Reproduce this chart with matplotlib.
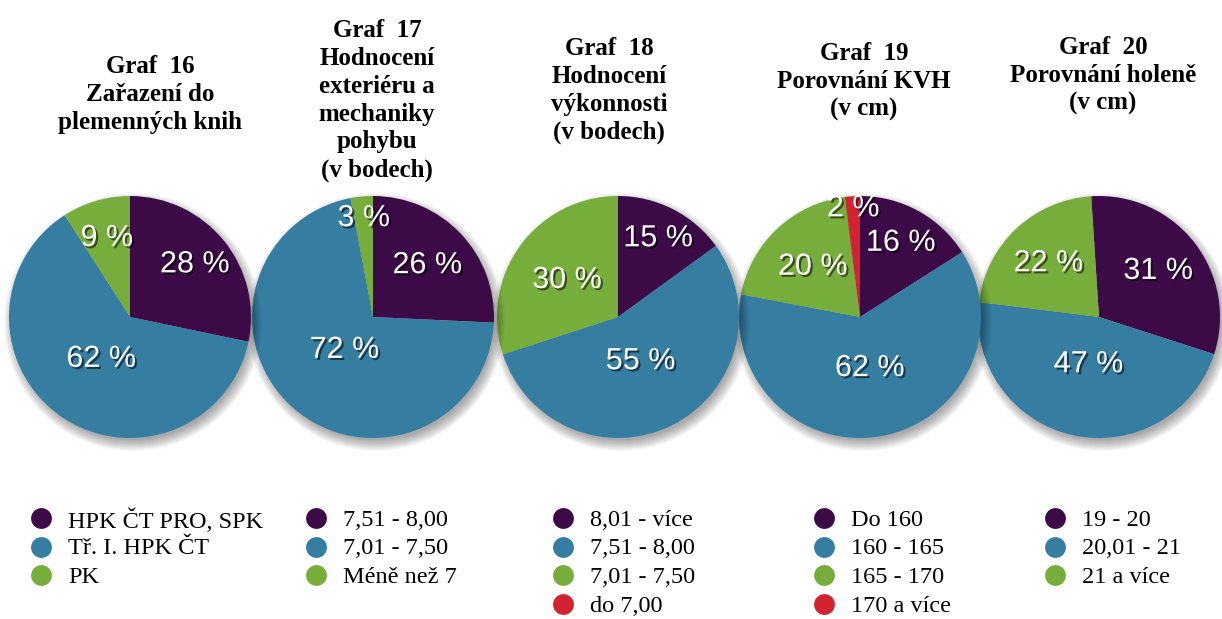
import matplotlib.pyplot as plt
import matplotlib.patheffects as pe
from matplotlib.patches import Circle
import numpy as np

W, H = 1222, 619

# Data
titles = [
    "Graf  16\nZařazení do\nplemenných knih",
    "Graf  17\nHodnocení\nexteriéru a\nmechaniky\npohybu\n(v bodech)",
    "Graf  18\nHodnocení\nvýkonnosti\n(v bodech)",
    "Graf  19\nPorovnání KVH\n(v cm)",
    "Graf  20\nPorovnání holeně\n(v cm)",
]
legend_labels = [
    ["HPK ČT PRO, SPK", "Tř. I. HPK ČT", "PK"],
    ["7,51 - 8,00", "7,01 - 7,50", "Méně než 7"],
    ["8,01 - více", "7,51 - 8,00", "7,01 - 7,50", "do 7,00"],
    ["Do 160", "160 - 165", "165 - 170", "170 a více"],
    ["19 - 20", "20,01 - 21", "21 a více"],
]
values = [
    [28, 62, 9],
    [26, 72, 3],
    [15, 55, 30, 0],
    [16, 62, 20, 2],
    [31, 47, 22],
]

colors = ["#3d0a48", "#367da2", "#77ad3b", "#d22330"]

# layout (pixels, y measured from top)
pie_cx = [130, 373, 618, 860, 1099]
pie_cy = 317
R = 121
start_angles = [90, 90, 90, 90, 93.7]
label_dist = [
    [0.69, 0.42, 0.68],
    [0.62, 0.36, 0.82],
    [0.73, 0.41, 0.52, 0.0],
    [0.70, 0.43, 0.57, 0.90],
    [0.62, 0.40, 0.61],
]
title_x = [150, 377, 609, 864, 1103]
title_top = [55, 19, 37, 42, 36]
leg_marker_x = [41, 316, 563, 824, 1055]
leg_text_dx = 27
leg_y0 = 518
leg_step = 28.5

fig = plt.figure(figsize=(W / 100, H / 100), dpi=100)
ax = fig.add_axes([0, 0, 1, 1])


def Y(y):
    return H - y


# draw right to left so that each pie's shadow falls on its right neighbour
for i in reversed(range(5)):
    cx, cy = pie_cx[i], Y(pie_cy)
    for k in range(12):
        ax.add_patch(Circle((cx + 3, cy - 5), R - 3 + k, color="black",
                            alpha=0.03, lw=0, zorder=2 * (5 - i)))
    wedges, _ = ax.pie(values[i], colors=colors[:len(values[i])],
                       startangle=start_angles[i], counterclock=False,
                       radius=R, center=(cx, cy),
                       wedgeprops=dict(linewidth=0, zorder=2 * (5 - i) + 1))
    for w, v, d in zip(wedges, values[i], label_dist[i]):
        if v == 0:
            continue
        mid = np.deg2rad((w.theta1 + w.theta2) / 2)
        ax.text(cx + d * R * np.cos(mid), cy + d * R * np.sin(mid), f"{v} %",
                ha="center", va="center", color="white", fontsize=22,
                family="Liberation Sans", zorder=20,
                path_effects=[pe.withSimplePatchShadow(
                    offset=(1.5, -1.5), shadow_rgbFace="black", alpha=0.55)])

# titles
for i in range(5):
    ax.text(title_x[i], Y(title_top[i]), titles[i], ha="center", va="top",
            fontsize=18, fontweight="bold", family="Liberation Serif",
            linespacing=1.27, color="black")

# legends
for i in range(5):
    for j, lab in enumerate(legend_labels[i]):
        y = Y(leg_y0 + j * leg_step)
        ax.plot(leg_marker_x[i], y, "o", ms=15, color=colors[j], mec="none")
        ax.text(leg_marker_x[i] + leg_text_dx, y, lab, ha="left",
                va="center_baseline", fontsize=17.5,
                family="Liberation Serif", color="black")

ax.set_xlim(0, W)
ax.set_ylim(0, H)
ax.axis("off")

fig.savefig("out.png", dpi=100)
